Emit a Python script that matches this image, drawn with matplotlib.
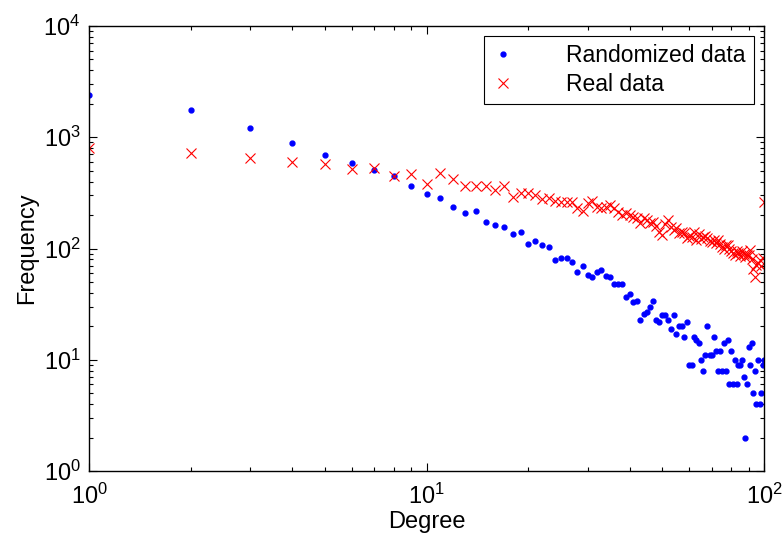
import numpy as np
import matplotlib
matplotlib.use("Agg")
import matplotlib.pyplot as plt

plt.rcParams["font.family"] = ["Liberation Sans", "DejaVu Sans"]
plt.rcParams["mathtext.fontset"] = "custom"
plt.rcParams["mathtext.rm"] = "Liberation Sans"
plt.rcParams["mathtext.it"] = "Liberation Sans"

# degree 1..100
degree = list(range(1, 101))

# frequency per degree, randomized network (blue dots)
randomized = [
    2399, 1758, 1218, 893, 697, 583, 508, 449, 365, 309,
    283, 238, 209, 216, 172, 163, 155, 135, 142, 109,
    116, 107, 104, 79, 83, 83, 76, 62, 69, 58,
    56, 61, 64, 57, 56, 48, 48, 48, 37, 39,
    33, 34, 23, 26, 27, 30, 34, 23, 22, 25,
    25, 23, 19, 25, 17, 20, 20, 16, 22, 9,
    9, 16, 15, 14, 10, 8, 11, 20, 11, 11,
    16, 12, 8, 12, 8, 14, 8, 15, 6, 12,
    6, 10, 6, 9, 9, 10, 7, 2, 6, 13,
    9, 14, 5, 8, 4, 10, 4, 5, 9, 10,
]

# frequency per degree, real network (red crosses)
real = [
    806, 726, 651, 603, 575, 515, 526, 451, 470, 378,
    474, 422, 365, 367, 367, 336, 365, 292, 314, 314,
    303, 279, 286, 269, 264, 264, 264, 230, 217, 255,
    267, 238, 230, 238, 245, 233, 212, 200, 207, 200,
    193, 187, 169, 187, 180, 169, 174, 160, 142, 132,
    165, 180, 157, 148, 152, 137, 140, 137, 124, 130,
    128, 142, 120, 134, 122, 128, 130, 124, 118, 115,
    120, 112, 119, 110, 104, 100, 107, 107, 98, 95,
    91, 88, 94, 91, 86, 94, 90, 84, 87, 88,
    97, 80, 66, 56, 71, 74, 79, 70, 82, 260,
]

fig = plt.figure(figsize=(7.83, 5.43), dpi=100)
ax = fig.add_axes([0.1137, 0.1326, 0.862, 0.8195])

ax.loglog(degree, randomized, linestyle="none", marker=".", markersize=7,
          color="#0000ff", label="Randomized data")
ax.loglog(degree, real, linestyle="none", marker="x", markersize=7,
          markeredgewidth=0.8, color="#ff0000", label="Real data")

ax.set_xlim(1, 100)
ax.set_ylim(1, 1e4)
ax.set_xlabel("Degree", fontsize=17, labelpad=2)
ax.set_ylabel("Frequency", fontsize=17, labelpad=4)

ax.tick_params(which="both", direction="in", top=True, right=True,
               labelsize=17, width=0.8)
ax.tick_params(which="major", length=6)
ax.tick_params(which="minor", length=3)
ax.tick_params(axis="x", which="major", pad=9)
ax.tick_params(axis="y", which="major", pad=6)
for s in ax.spines.values():
    s.set_linewidth(1.0)

leg = ax.legend(loc="upper right", fontsize=16.5, fancybox=False,
                edgecolor="black", framealpha=1, borderaxespad=0.45,
                handletextpad=2.3, handlelength=0.95, borderpad=0.35,
                labelspacing=0.25)
leg.get_frame().set_linewidth(0.8)

fig.savefig("out.png", dpi=100)
